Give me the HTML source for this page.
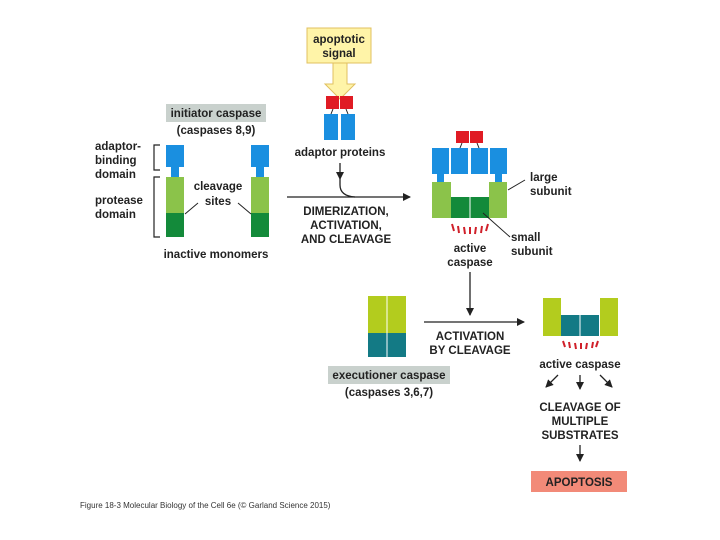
<!DOCTYPE html>
<html><head><meta charset="utf-8"><style>
html,body{margin:0;padding:0;background:#fff;}
svg{display:block;font-family:"Liberation Sans",sans-serif;}
.t{font-size:11.5px;font-weight:bold;fill:#222;}
.c{text-anchor:middle;}
</style></head><body>
<svg width="720" height="540" viewBox="0 0 720 540">
<defs><marker id="a" markerWidth="8" markerHeight="8" refX="7" refY="4" orient="auto" markerUnits="userSpaceOnUse"><path d="M0,0L8,4L0,8z" fill="#222"/></marker></defs>
<!-- apoptotic signal -->
<rect x="307" y="28" width="64" height="35" fill="#fff4a8" stroke="#e0c060"/>
<text class="t c" x="339" y="43">apoptotic</text><text class="t c" x="339" y="57">signal</text>
<path d="M333,63H347V84H355L340,99L325,84H333Z" fill="#fff4a8" stroke="#e0c060"/>
<rect x="326" y="96" width="13" height="13" fill="#e01b24"/><rect x="340" y="96" width="13" height="13" fill="#e01b24"/>
<rect x="324" y="114" width="14" height="26" fill="#1a8fe0"/><rect x="341" y="114" width="14" height="26" fill="#1a8fe0"/>
<path d="M333,109L331,114M346,109L348,114" stroke="#222"/>
<text class="t c" x="340" y="156">adaptor proteins</text>
<!-- initiator -->
<rect x="166" y="104" width="100" height="18" fill="#c9d1cd"/>
<text class="t c" x="216" y="117">initiator caspase</text>
<text class="t c" x="216" y="134">(caspases 8,9)</text>
<g id="m">
<rect x="166" y="145" width="18" height="22" fill="#1a8fe0"/>
<rect x="171" y="166" width="8" height="11" fill="#1a8fe0"/>
<rect x="166" y="177" width="18" height="36" fill="#8bc34a"/>
<rect x="166" y="213" width="18" height="24" fill="#138a3a"/>
</g>
<use href="#m" x="85"/>
<path d="M160,145H154V170H160M160,177H154V237H160" fill="none" stroke="#222" stroke-width="1.2"/>
<text class="t" x="95" y="150">adaptor-</text><text class="t" x="95" y="164">binding</text><text class="t" x="95" y="178">domain</text>
<text class="t" x="95" y="204">protease</text><text class="t" x="95" y="218">domain</text>
<text class="t c" x="218" y="190">cleavage</text><text class="t c" x="218" y="205">sites</text>
<path d="M185,214L198,203M251,214L238,203" stroke="#222"/>
<text class="t c" x="216" y="258">inactive monomers</text>
<!-- main arrow -->
<line x1="287" y1="197" x2="410" y2="197" stroke="#222" stroke-width="1.3" marker-end="url(#a)"/>
<path d="M340,163V185Q340,196 355,197" fill="none" stroke="#222" stroke-width="1.3"/>
<path d="M336,172L340,180L344,172z" fill="#222"/>
<text class="t c" x="346" y="215">DIMERIZATION,</text><text class="t c" x="346" y="229">ACTIVATION,</text><text class="t c" x="346" y="243">AND CLEAVAGE</text>
<!-- active caspase top -->
<rect x="456" y="131" width="13" height="12" fill="#e01b24"/><rect x="470" y="131" width="13" height="12" fill="#e01b24"/>
<path d="M462,143L460,148M477,143L479,148" stroke="#222"/>
<rect x="432" y="148" width="17" height="26" fill="#1a8fe0"/><rect x="451" y="148" width="17" height="26" fill="#1a8fe0"/>
<rect x="471" y="148" width="17" height="26" fill="#1a8fe0"/><rect x="490" y="148" width="17" height="26" fill="#1a8fe0"/>
<rect x="437" y="174" width="7" height="8" fill="#1a8fe0"/><rect x="495" y="174" width="7" height="8" fill="#1a8fe0"/>
<rect x="432" y="182" width="19" height="36" fill="#8bc34a"/><rect x="489" y="182" width="18" height="36" fill="#8bc34a"/>
<rect x="451" y="197" width="18.5" height="21" fill="#138a3a"/><rect x="470.5" y="197" width="18.5" height="21" fill="#138a3a"/>
<g stroke="#d0202a" stroke-width="2"><path d="M452,224L454,231M458,226L459,233M464,227L465,234M470,227L470,234M476,227L475,234M482,226L481,233M488,224L486,231"/></g>
<text class="t c" x="470" y="252">active</text><text class="t c" x="470" y="266">caspase</text>
<path d="M508,190L525,180M483,213L510,237" stroke="#222"/>
<text class="t" x="530" y="181">large</text><text class="t" x="530" y="195">subunit</text>
<text class="t" x="511" y="241">small</text><text class="t" x="511" y="255">subunit</text>
<line x1="470" y1="272" x2="470" y2="315" stroke="#222" stroke-width="1.3" marker-end="url(#a)"/>
<!-- executioner -->
<rect x="368" y="296" width="18.5" height="37" fill="#b3cc1e"/><rect x="387.5" y="296" width="18.5" height="37" fill="#b3cc1e"/>
<rect x="368" y="333" width="18.5" height="24" fill="#137a85"/><rect x="387.5" y="333" width="18.5" height="24" fill="#137a85"/>
<rect x="328" y="366" width="122" height="18" fill="#c9d1cd"/>
<text class="t c" x="389" y="379">executioner caspase</text>
<text class="t c" x="389" y="396">(caspases 3,6,7)</text>
<line x1="424" y1="322" x2="524" y2="322" stroke="#222" stroke-width="1.3" marker-end="url(#a)"/>
<text class="t c" x="470" y="340">ACTIVATION</text><text class="t c" x="470" y="354">BY CLEAVAGE</text>
<!-- active caspase bottom -->
<rect x="543" y="298" width="18" height="38" fill="#b3cc1e"/><rect x="600" y="298" width="18" height="38" fill="#b3cc1e"/>
<rect x="561" y="315" width="18.5" height="21" fill="#137a85"/><rect x="580.5" y="315" width="18.5" height="21" fill="#137a85"/>
<g stroke="#d0202a" stroke-width="2"><path d="M563,341L565,347M569,342L570,348M575,343L576,349M581,343L581,349M587,343L586,349M593,342L592,348M598,341L596,347"/></g>
<text class="t c" x="580" y="368">active caspase</text>
<g stroke="#222" stroke-width="1.3"><line x1="558" y1="375" x2="546" y2="387" marker-end="url(#a)"/><line x1="580" y1="375" x2="580" y2="389" marker-end="url(#a)"/><line x1="600" y1="375" x2="612" y2="387" marker-end="url(#a)"/></g>
<text class="t c" x="580" y="411">CLEAVAGE OF</text><text class="t c" x="580" y="425">MULTIPLE</text><text class="t c" x="580" y="439">SUBSTRATES</text>
<line x1="580" y1="445" x2="580" y2="461" stroke="#222" stroke-width="1.3" marker-end="url(#a)"/>
<rect x="531" y="471" width="96" height="21" fill="#f28a78"/>
<text class="t c" x="579" y="486">APOPTOSIS</text>
<text x="80" y="508" style="font-size:8px;fill:#333">Figure 18-3  Molecular Biology of the Cell 6e (© Garland Science 2015)</text>
</svg>
</body></html>
